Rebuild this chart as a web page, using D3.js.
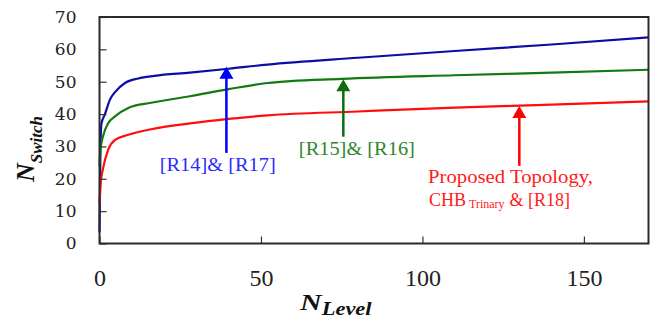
<!DOCTYPE html>
<html>
<head>
<meta charset="utf-8">
<script src="https://cdn.jsdelivr.net/npm/d3@7"></script>
<style>
  body { margin: 0; background: #fff; }
  svg { display: block; }
  .ytick text { font-family: "DejaVu Serif", "Liberation Serif", serif; font-size: 17px; fill: #222; }
  .xtick text { font-family: "Liberation Serif", "Times New Roman", Times, serif; font-size: 24px; fill: #222; }
  .note { font-family: "Liberation Serif", "Times New Roman", Times, serif; font-size: 18px; }
  .title { font-family: "Liberation Serif", "Times New Roman", Times, serif; font-weight: bold; font-style: italic; fill: #111; }
</style>
</head>
<body>
<svg id="chart" width="651" height="320"></svg>
<script>
// curves (N_Level -> N_Switch)
const nBlue = [0, 0.3, 0.6, 1.7, 3.2, 4.8, 7.9, 12, 17, 28, 40, 52, 80, 110, 140, 170];
const sBlue = [3.5, 30, 37, 40, 44.4, 46.8, 49.6, 51, 51.8, 52.8, 54, 55.3, 57.4, 59.5, 61.5, 63.7];

const nGreen = [0, 0.3, 1.2, 2.7, 4.8, 8.9, 16, 28, 40, 52, 75, 110, 140, 170];
const sGreen = [24, 29, 33.5, 37.2, 39.3, 41.9, 43.5, 45.5, 47.7, 49.6, 50.9, 52.0, 52.8, 53.7];

const nRed = [0, 0.4, 1, 2.7, 4.8, 8.9, 16, 28, 40, 52, 80, 110, 140, 170];
const sRed = [12, 19, 22.7, 29, 32, 33.6, 35.3, 37.1, 38.5, 39.6, 40.8, 42.0, 42.9, 43.9];

const xTicks = [0, 50, 100, 150];
const yTicks = [0, 10, 20, 30, 40, 50, 60, 70];

// arrows: at N, from tail value up to tip value
const arrowN = [39.3, 75.5, 130];
const arrowTip = [54.6, 50.8, 42.5];
const arrowTail = [28, 33, 24];

const svg = d3.select("#chart");
const mLeft = 99.5, mRight = 648.5, mTop = 17, mBottom = 243.5;

const x = d3.scaleLinear().domain([0, 170]).range([mLeft, mRight]);
const y = d3.scaleLinear().domain([0, 70]).range([mBottom, mTop]);

const series = [
    { n: nBlue, s: sBlue, color: "#0d0da6" },
    { n: nGreen, s: sGreen, color: "#117a11" },
    { n: nRed, s: sRed, color: "#ff0d0d" }
];

const line = d3.line()
    .x(d => x(d[0]))
    .y(d => y(d[1]))
    .curve(d3.curveMonotoneX);

svg.append("g").selectAll("path")
    .data(series)
    .enter().append("path")
    .attr("d", d => line(d.n.map((v, i) => [v, d.s[i]])))
    .attr("fill", "none")
    .attr("stroke", d => d.color)
    .attr("stroke-width", 2.2);

// axes with inward ticks
const yAxis = svg.append("g")
    .attr("class", "ytick")
    .attr("transform", `translate(${mLeft},0)`)
    .call(d3.axisLeft(y).tickValues(yTicks).tickSize(-7).tickPadding(23));
yAxis.select(".domain").remove();
yAxis.selectAll("line").attr("stroke", "#333").attr("stroke-width", 1.2);
yAxis.attr("font-family", null).attr("font-size", null);

const xAxis = svg.append("g")
    .attr("class", "xtick")
    .attr("transform", `translate(0,${mBottom})`)
    .call(d3.axisBottom(x).tickValues(xTicks).tickSize(-7).tickPadding(25));
xAxis.select(".domain").remove();
xAxis.selectAll("line").attr("stroke", "#333").attr("stroke-width", 1.2);
xAxis.attr("font-family", null).attr("font-size", null);

svg.append("rect")
    .attr("x", mLeft).attr("y", mTop)
    .attr("width", mRight - mLeft).attr("height", mBottom - mTop)
    .attr("fill", "none")
    .attr("stroke", "#2a2a2a")
    .attr("stroke-width", 2);

// arrows
const arrowColors = ["#0000ff", "#0a6e0a", "#ff0000"];
arrowN.forEach((n, i) => {
    const ax = x(n), tip = y(arrowTip[i]), tail = y(arrowTail[i]);
    svg.append("line")
        .attr("x1", ax).attr("x2", ax)
        .attr("y1", tail).attr("y2", tip + 10)
        .attr("stroke", arrowColors[i])
        .attr("stroke-width", 2.5);
    svg.append("path")
        .attr("d", `M${ax},${tip} L${ax - 7},${tip + 12} L${ax + 7},${tip + 12} Z`)
        .attr("fill", arrowColors[i]);
});

// labels
svg.append("text").attr("class", "note")
    .attr("x", x(36.6)).attr("y", 171)
    .attr("text-anchor", "middle")
    .attr("fill", "#2b2bff")
    .attr("textLength", 116).attr("lengthAdjust", "spacingAndGlyphs")
    .text("[R14]& [R17]");

svg.append("text").attr("class", "note")
    .attr("x", x(79.7)).attr("y", 155)
    .attr("text-anchor", "middle")
    .attr("fill", "#2e862e")
    .attr("textLength", 116).attr("lengthAdjust", "spacingAndGlyphs")
    .text("[R15]& [R16]");

svg.append("text").attr("class", "note")
    .attr("x", 428).attr("y", 183)
    .attr("fill", "#ff1a1a")
    .attr("textLength", 165).attr("lengthAdjust", "spacingAndGlyphs")
    .text("Proposed Topology,");

const chb = svg.append("text").attr("class", "note")
    .attr("x", 429).attr("y", 206)
    .attr("font-size", 19)
    .attr("fill", "#ff1a1a");
chb.append("tspan").text("CHB");
chb.append("tspan").attr("font-size", 12).attr("dx", 3).attr("dy", 2).text("Trinary");
chb.append("tspan").attr("dx", 5).attr("dy", -2).text("& [R18]");

// axis titles
const xt = svg.append("text").attr("class", "title")
    .attr("transform", "translate(300,310) scale(1.25,1)");
xt.append("tspan").attr("font-size", 24).text("N");
xt.append("tspan").attr("font-size", 18).attr("dy", 5).text("Level");

const yt = svg.append("text").attr("class", "title")
    .attr("transform", "translate(34,182) rotate(-90)");
yt.append("tspan").attr("font-size", 26).text("N");
yt.append("tspan").attr("font-size", 17).attr("dy", 8).text("Switch");
</script>
</body>
</html>
